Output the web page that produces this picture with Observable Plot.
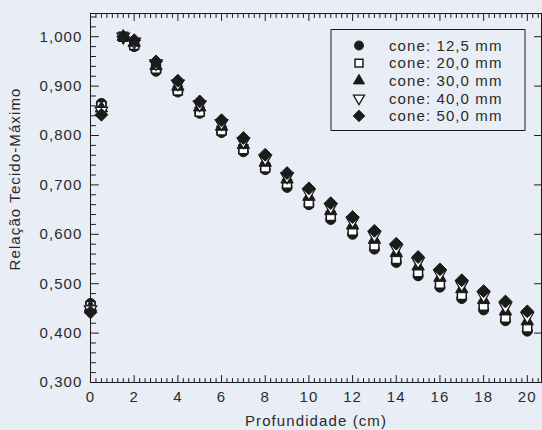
<!DOCTYPE html>
<html>
<head>
<meta charset="utf-8">
<script src="https://cdn.jsdelivr.net/npm/d3@7"></script>
<script src="https://cdn.jsdelivr.net/npm/@observablehq/plot@0.6"></script>
<style>
  html, body { margin: 0; padding: 0; background: #e9eef6; }
  #chart svg { display: block; }
</style>
</head>
<body>
<div id="chart"></div>
<script>
// Depth (cm)
const depth = [0, 0.5, 1.5, 2, 3, 4, 5, 6, 7, 8, 9, 10, 11, 12, 13, 14, 15, 16, 17, 18, 19, 20];
// Tissue-maximum ratio per cone
const cone125 = [0.460, 0.865, 1.000, 0.980, 0.930, 0.888, 0.845, 0.806, 0.767, 0.731, 0.695, 0.660, 0.630, 0.600, 0.570, 0.543, 0.516, 0.493, 0.470, 0.447, 0.425, 0.404];
const cone200 = [0.455, 0.860, 1.000, 0.983, 0.935, 0.891, 0.848, 0.810, 0.772, 0.735, 0.702, 0.664, 0.637, 0.607, 0.577, 0.550, 0.523, 0.500, 0.477, 0.455, 0.431, 0.411];
const cone300 = [0.452, 0.855, 1.000, 0.988, 0.941, 0.899, 0.857, 0.818, 0.781, 0.745, 0.711, 0.676, 0.647, 0.618, 0.589, 0.562, 0.535, 0.512, 0.489, 0.467, 0.444, 0.424];
const cone400 = [0.448, 0.850, 1.000, 0.990, 0.946, 0.905, 0.863, 0.825, 0.788, 0.753, 0.717, 0.684, 0.655, 0.627, 0.598, 0.572, 0.545, 0.520, 0.498, 0.476, 0.454, 0.434];
const cone500 = [0.442, 0.842, 1.000, 0.993, 0.950, 0.911, 0.869, 0.831, 0.795, 0.761, 0.724, 0.693, 0.663, 0.635, 0.607, 0.581, 0.554, 0.529, 0.507, 0.485, 0.464, 0.444];
const seriesNames = ["cone: 12,5 mm", "cone: 20,0 mm", "cone: 30,0 mm", "cone: 40,0 mm", "cone: 50,0 mm"];
const xTicks = [0, 2, 4, 6, 8, 10, 12, 14, 16, 18, 20];
const yTicks = [0.3, 0.4, 0.5, 0.6, 0.7, 0.8, 0.9, 1.0];
const xLabel = "Profundidade (cm)";
const yLabel = "Relação Tecido-Máximo";

const series = [cone125, cone200, cone300, cone400, cone500];

// inverted triangle symbol
const triangleDown = {
  draw(context, size) {
    const y = -Math.sqrt(size / (Math.sqrt(3) * 3));
    context.moveTo(0, -y * 2);
    context.lineTo(-Math.sqrt(3) * y, y);
    context.lineTo(Math.sqrt(3) * y, y);
    context.closePath();
  }
};
const ink = "#1b1b1b";
const txt = "#2a2a2a";
const styles = [
  {symbol: "circle", r: 5, fill: ink, stroke: ink, strokeWidth: 1},
  {symbol: "square", r: 5, fill: "white", stroke: ink, strokeWidth: 1.5},
  {symbol: "triangle", r: 4.6, fill: ink, stroke: ink, strokeWidth: 1},
  {symbol: triangleDown, r: 4.6, fill: "white", stroke: ink, strokeWidth: 1.3},
  {symbol: "diamond2", r: 5.8, fill: ink, stroke: ink, strokeWidth: 1}
];

const xMinor = d3.range(0, 20.6, 0.25).filter(v => Math.abs(v / 2 - Math.round(v / 2)) > 1e-9);
const yMinor = d3.range(0.30, 1.041, 0.02).filter(v => Math.abs(v * 10 - Math.round(v * 10)) > 1e-6);
const tickLine = {draw(c, l) { c.moveTo(0, 0); c.lineTo(0, -l); }};
const fmt = d => d3.format(".3f")(d).replace(".", ",");

const tickMarks = (data, opts) => Plot.vector(data, {anchor: "start", shape: tickLine, stroke: ink, strokeWidth: 1, ...opts});

const dotMarks = series.map((vals, s) =>
  Plot.dot(depth.map((d, i) => ({depth: d, value: vals[i]})), {x: "depth", y: "value", ...styles[s]})
);

const chart = Plot.plot({
  width: 542,
  height: 430,
  marginLeft: 90,
  marginRight: 1,
  marginTop: 13,
  marginBottom: 48,
  style: {background: "transparent", fontFamily: "Liberation Sans, Arial, sans-serif", fontSize: "15px", color: txt, letterSpacing: "1.1px"},
  x: {domain: [0, 20.65]},
  y: {domain: [0.3, 1.047]},
  marks: [
    Plot.frame({stroke: ink, strokeWidth: 1}),
    // bottom ticks
    tickMarks(xTicks, {x: d => d, frameAnchor: "bottom", length: 7}),
    tickMarks(xMinor, {x: d => d, frameAnchor: "bottom", length: 4}),
    // top ticks
    tickMarks(xTicks, {x: d => d, frameAnchor: "top", length: 7, rotate: 180}),
    tickMarks(xMinor, {x: d => d, frameAnchor: "top", length: 4, rotate: 180}),
    // left ticks
    tickMarks(yTicks, {y: d => d, frameAnchor: "left", length: 8, rotate: 90}),
    tickMarks(yMinor, {y: d => d, frameAnchor: "left", length: 5, rotate: 90}),
    // right ticks
    tickMarks(yTicks, {y: d => d, frameAnchor: "right", length: 7, rotate: -90}),
    Plot.axisX(xTicks, {tickSize: 0, tickPadding: 9, label: null, fill: txt}),
    Plot.axisY(yTicks, {tickSize: 0, tickPadding: 8, tickFormat: fmt, label: null, fill: txt}),
    Plot.text([xLabel], {frameAnchor: "bottom", lineAnchor: "middle", textAnchor: "middle", dy: 39, fill: txt}),
    Plot.text([yLabel], {frameAnchor: "left", textAnchor: "middle", lineAnchor: "middle", dx: -75, dy: -19, rotate: -90, fill: txt}),
    ...dotMarks
  ]
});

document.getElementById("chart").append(chart);

// Legend box
const svg = d3.select(chart);
const lg = svg.append("g").attr("class", "legend");
lg.append("rect").attr("x", 331).attr("y", 29.5).attr("width", 194).attr("height", 101)
  .attr("fill", "none").attr("stroke", ink).attr("stroke-width", 1);
const symMap = {circle: d3.symbolCircle, square: d3.symbolSquare, triangle: d3.symbolTriangle, diamond2: d3.symbolDiamond2};
seriesNames.forEach((name, i) => {
  const st = styles[i];
  const yy = 45.5 + i * 17.6;
  const sym = typeof st.symbol === "string" ? symMap[st.symbol] : st.symbol;
  lg.append("path")
    .attr("d", d3.symbol(sym, Math.PI * st.r * st.r * 0.8)())
    .attr("transform", `translate(359,${yy})`)
    .attr("fill", st.fill).attr("stroke", st.stroke).attr("stroke-width", st.strokeWidth);
  lg.append("text").attr("x", 389).attr("y", yy).attr("dy", "0.35em")
    .attr("text-anchor", "start")
    .attr("fill", txt).text(name);
});
</script>
</body>
</html>
